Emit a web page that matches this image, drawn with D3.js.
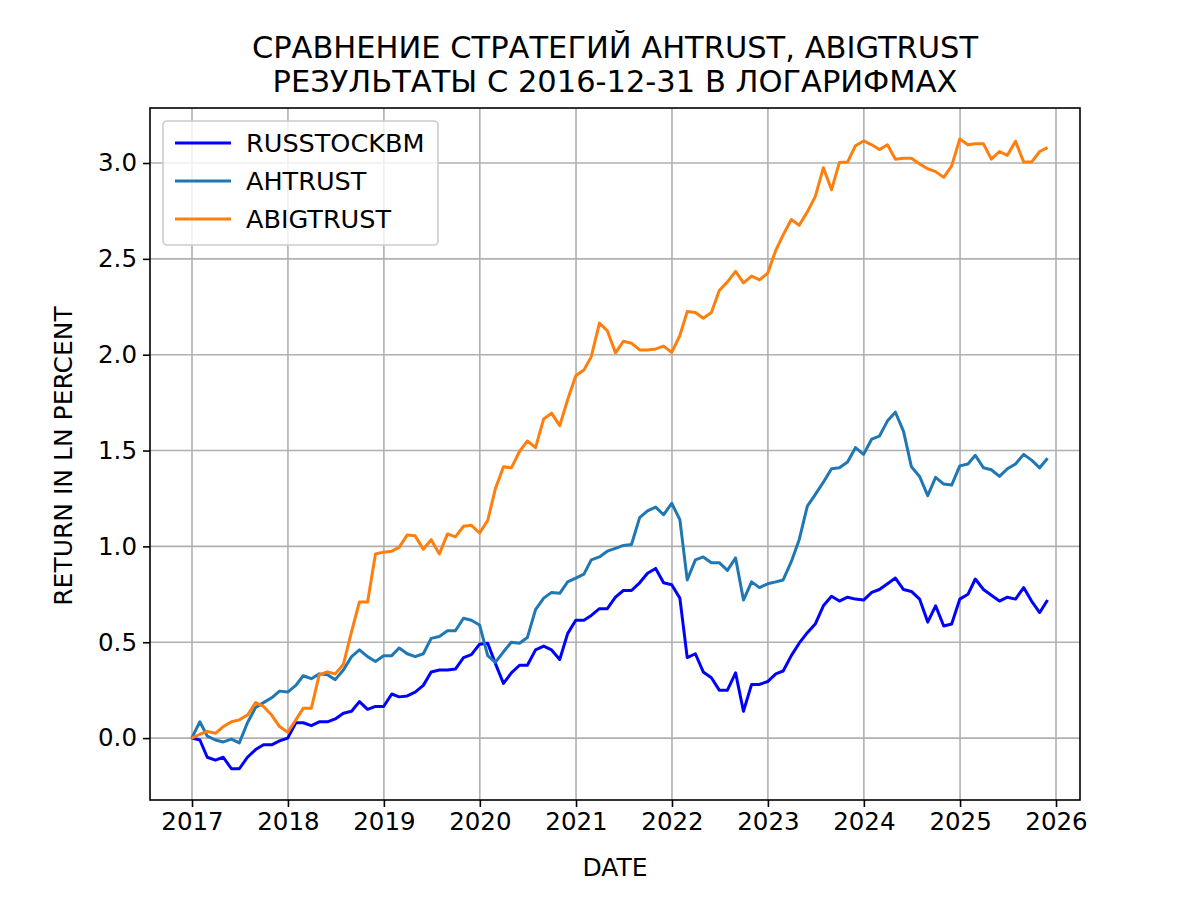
<!DOCTYPE html>
<html>
<head>
<meta charset="utf-8">
<script src="https://cdn.jsdelivr.net/npm/d3@7"></script>
<style>
  body { margin: 0; background: #fff; }
  text { font-family: "DejaVu Sans", sans-serif; }
</style>
</head>
<body>
<svg id="chart" width="1200" height="900"></svg>
<script>
// monthly values, end of month, 2016-12-31 .. 2025-11-30
var russtockbm = [0,
  -0.01, -0.10, -0.115, -0.10, -0.16, -0.16, -0.10, -0.06, -0.035, -0.035, -0.015, 0.0,
  0.08, 0.08, 0.065, 0.085, 0.085, 0.10, 0.13, 0.14, 0.19, 0.15, 0.165, 0.165,
  0.23, 0.215, 0.22, 0.24, 0.275, 0.345, 0.355, 0.355, 0.36, 0.42, 0.435, 0.49,
  0.495, 0.39, 0.285, 0.34, 0.38, 0.38, 0.46, 0.48, 0.46, 0.41, 0.545, 0.615,
  0.615, 0.64, 0.675, 0.675, 0.735, 0.77, 0.77, 0.81, 0.86, 0.885, 0.81, 0.80,
  0.73, 0.42, 0.44, 0.345, 0.315, 0.25, 0.25, 0.34, 0.14, 0.28, 0.28, 0.295,
  0.335, 0.35, 0.43, 0.495, 0.55, 0.595, 0.69, 0.74, 0.715, 0.735, 0.725, 0.72,
  0.76, 0.775, 0.805, 0.835, 0.775, 0.765, 0.725, 0.605, 0.69, 0.585, 0.595, 0.725,
  0.75, 0.83, 0.775, 0.745, 0.715, 0.735, 0.725, 0.785, 0.715, 0.655, 0.72];

var ahtrust = [0,
  0.085, 0.01, -0.01, -0.02, -0.005, -0.025, 0.08, 0.16, 0.185, 0.21, 0.245, 0.24,
  0.275, 0.325, 0.31, 0.335, 0.33, 0.305, 0.355, 0.425, 0.46, 0.425, 0.40, 0.43,
  0.43, 0.47, 0.44, 0.425, 0.44, 0.52, 0.53, 0.56, 0.56, 0.625, 0.615, 0.59,
  0.43, 0.395, 0.45, 0.50, 0.495, 0.525, 0.67, 0.73, 0.76, 0.755, 0.815, 0.835,
  0.855, 0.93, 0.945, 0.975, 0.99, 1.005, 1.01, 1.15, 1.185, 1.205, 1.165, 1.225,
  1.14, 0.825, 0.93, 0.945, 0.915, 0.915, 0.875, 0.94, 0.72, 0.815, 0.785, 0.805,
  0.815, 0.825, 0.92, 1.035, 1.21, 1.27, 1.335, 1.405, 1.41, 1.44, 1.515, 1.48,
  1.56, 1.575, 1.655, 1.70, 1.60, 1.415, 1.365, 1.265, 1.36, 1.325, 1.32, 1.42,
  1.43, 1.475, 1.41, 1.40, 1.365, 1.405, 1.43, 1.48, 1.45, 1.41, 1.46];

var abigtrust = [0,
  0.02, 0.035, 0.025, 0.06, 0.085, 0.095, 0.12, 0.185, 0.165, 0.12, 0.06, 0.03,
  0.095, 0.155, 0.155, 0.33, 0.345, 0.335, 0.385, 0.555, 0.71, 0.71, 0.96, 0.97,
  0.975, 0.995, 1.06, 1.055, 0.985, 1.035, 0.96, 1.065, 1.05, 1.105, 1.11, 1.07,
  1.135, 1.30, 1.415, 1.41, 1.495, 1.55, 1.515, 1.665, 1.695, 1.63, 1.765, 1.89,
  1.92, 1.99, 2.165, 2.125, 2.01, 2.07, 2.06, 2.025, 2.025, 2.03, 2.045, 2.012,
  2.10, 2.225, 2.22, 2.19, 2.22, 2.335, 2.38, 2.435, 2.375, 2.41, 2.39, 2.425,
  2.545, 2.625, 2.705, 2.675, 2.745, 2.825, 2.975, 2.86, 3.003, 3.005, 3.09, 3.115,
  3.095, 3.07, 3.095, 3.02, 3.025, 3.025, 2.995, 2.97, 2.955, 2.925, 2.985, 3.125,
  3.095, 3.10, 3.10, 3.02, 3.06, 3.04, 3.113, 3.005, 3.005, 3.06, 3.08];

var seriesNames = ["RUSSTOCKBM", "AHTRUST", "ABIGTRUST"];
var seriesColors = ["#0000ff", "#1f77b4", "#ff7f0e"];
var yTicks = [0.0, 0.5, 1.0, 1.5, 2.0, 2.5, 3.0];
var xTickYears = d3.range(2017, 2027);

var dates = russtockbm.map((v, i) => new Date(2017, i, 0));
var allSeries = [russtockbm, ahtrust, abigtrust];

var svg = d3.select("#chart");
var mLeft = 150, mRight = 1080, mTop = 108, mBottom = 800;

var x = d3.scaleTime()
  .domain([new Date(2017, 0, 1), new Date(2026, 0, 1)])
  .range([192, 1056]);
var y = d3.scaleLinear()
  .domain([-0.323, 3.287])
  .range([mBottom, mTop]);

// grid
svg.append("g").selectAll("line").data(xTickYears).join("line")
  .attr("x1", d => x(new Date(d, 0, 1))).attr("x2", d => x(new Date(d, 0, 1)))
  .attr("y1", mTop).attr("y2", mBottom)
  .attr("stroke", "#b0b0b0").attr("stroke-width", 1.6);
svg.append("g").selectAll("line").data(yTicks).join("line")
  .attr("x1", mLeft).attr("x2", mRight)
  .attr("y1", d => y(d)).attr("y2", d => y(d))
  .attr("stroke", "#b0b0b0").attr("stroke-width", 1.6);

// lines
var line = d3.line().x((d, i) => x(dates[i])).y(d => y(d));
allSeries.forEach((s, k) => {
  svg.append("path").datum(s)
    .attr("d", line)
    .attr("fill", "none")
    .attr("stroke", seriesColors[k])
    .attr("stroke-width", 3)
    .attr("stroke-linejoin", "round");
});

// axes
var xAxis = d3.axisBottom(x)
  .tickValues(xTickYears.map(d => new Date(d, 0, 1)))
  .tickFormat(d3.timeFormat("%Y"))
  .tickSize(7).tickPadding(6);
var yAxis = d3.axisLeft(y)
  .tickValues(yTicks)
  .tickFormat(d3.format(".1f"))
  .tickSize(7).tickPadding(6);

var gx = svg.append("g").attr("transform", `translate(0,${mBottom})`).call(xAxis);
var gy = svg.append("g").attr("transform", `translate(${mLeft},0)`).call(yAxis);
[gx, gy].forEach(g => {
  g.select(".domain").remove();
  g.selectAll(".tick line").attr("stroke", "#000").attr("stroke-width", 1.6);
  g.selectAll(".tick text").attr("fill", "#000")
    .style("font-size", "24.5px").style("font-family", "DejaVu Sans");
});

svg.append("rect")
  .attr("x", mLeft).attr("y", mTop)
  .attr("width", mRight - mLeft).attr("height", mBottom - mTop)
  .attr("fill", "none").attr("stroke", "#000").attr("stroke-width", 1.6);

// titles
svg.append("text").attr("x", 615).attr("y", 58).attr("text-anchor", "middle")
  .style("font-size", "30.5px").text("СРАВНЕНИЕ СТРАТЕГИЙ AHTRUST, ABIGTRUST");
svg.append("text").attr("x", 615).attr("y", 92).attr("text-anchor", "middle")
  .style("font-size", "30.5px").text("РЕЗУЛЬТАТЫ С 2016-12-31 В ЛОГАРИФМАХ");
svg.append("text").attr("x", 615).attr("y", 876).attr("text-anchor", "middle")
  .style("font-size", "25px").text("DATE");
svg.append("text").attr("transform", "translate(72,456) rotate(-90)")
  .attr("text-anchor", "middle")
  .style("font-size", "25px").text("RETURN IN LN PERCENT");

// legend
var lg = svg.append("g");
lg.append("rect").attr("x", 163).attr("y", 121).attr("width", 275).attr("height", 124)
  .attr("rx", 4).attr("fill", "#fff").attr("fill-opacity", 0.8)
  .attr("stroke", "#cccccc").attr("stroke-width", 1.6);
seriesNames.forEach((n, k) => {
  var yy = 143 + k * 38;
  lg.append("line").attr("x1", 175).attr("x2", 231).attr("y1", yy).attr("y2", yy)
    .attr("stroke", seriesColors[k]).attr("stroke-width", 3);
  lg.append("text").attr("x", 246).attr("y", yy + 9)
    .style("font-size", "25.5px").text(n);
});
</script>
</body>
</html>
